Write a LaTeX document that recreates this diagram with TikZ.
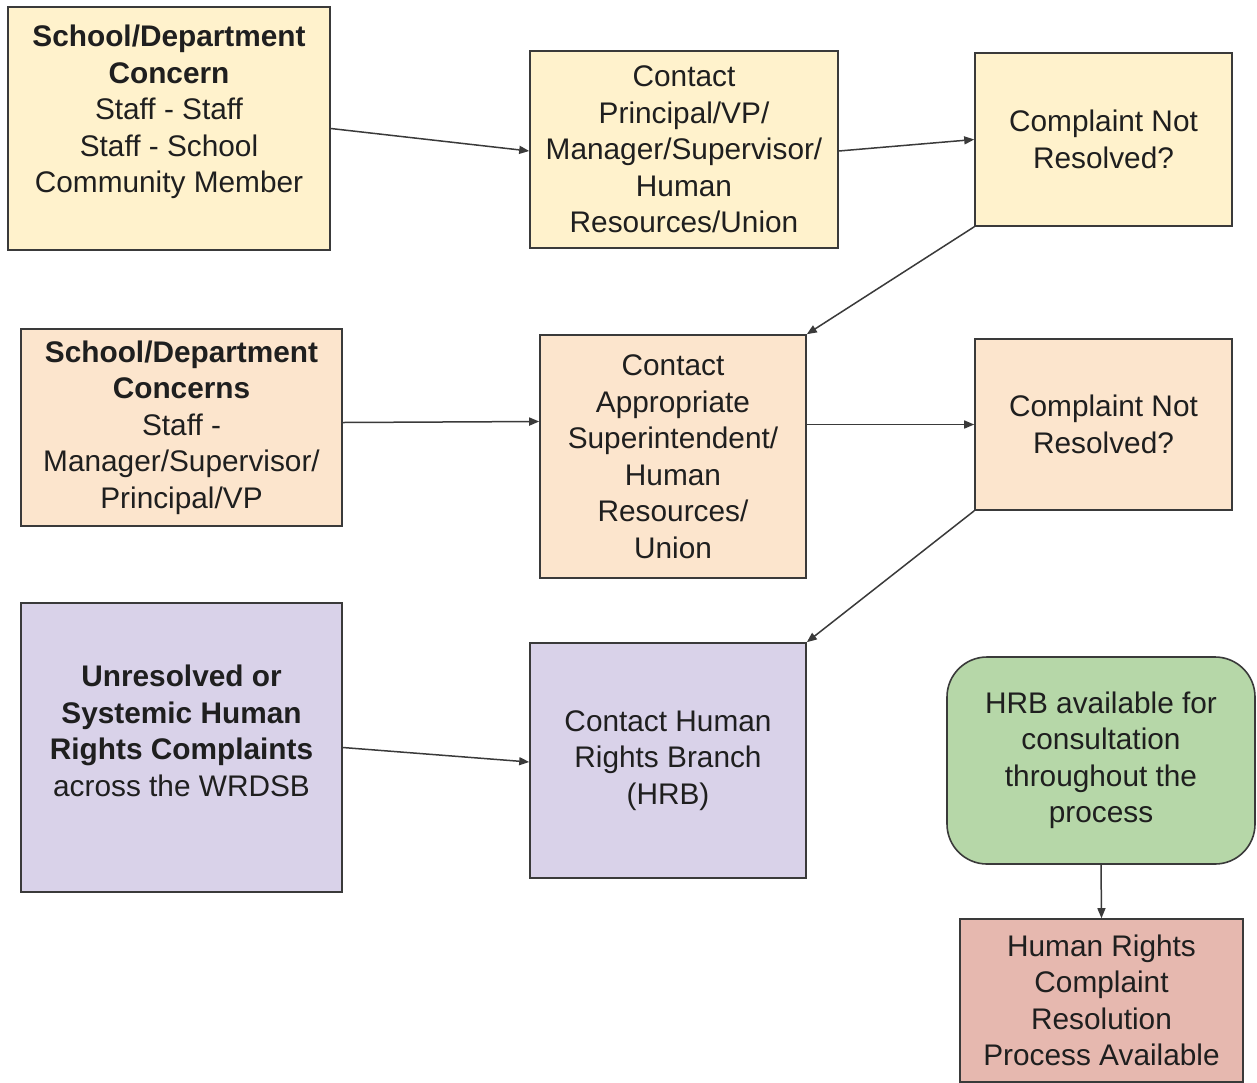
\documentclass[tikz,border=0pt]{standalone}
\usepackage{fontspec}
\setmainfont{Liberation Sans}
\usetikzlibrary{arrows.meta,calc}
\definecolor{cyel}{HTML}{FFF2CC}
\definecolor{corg}{HTML}{FCE5CD}
\definecolor{clav}{HTML}{D9D2E9}
\definecolor{cgrn}{HTML}{B6D7A8}
\definecolor{cpnk}{HTML}{E6B8AF}
\definecolor{cline}{HTML}{3A3A3A}
\tikzset{
  box/.style={draw=cline, line width=1.6pt, rectangle, inner sep=0pt},
  txt/.style={align=center, font=\fontsize{29.8}{36.5}\selectfont, text=black!88, inner sep=0pt},
  conn/.style={draw=cline, line width=1.5pt, -{Triangle[length=10pt,width=8pt]}}
}
\begin{document}
\begin{tikzpicture}[x=1pt,y=-1pt]
\useasboundingbox (0,0) rectangle (1257,1082);
\fill[white] (0,0) rectangle (1257,1082);
% row 1
\node[box, fill=cyel, minimum width=322pt, minimum height=243pt] (a) at (169,128.5) {};
\node[txt] (at) at (169,112) {\textbf{School/Department}\\\textbf{Concern}\\Staff - Staff\\Staff - School\\Community Member};
\node[box, fill=cyel, minimum width=308pt, minimum height=197pt, txt] (b) at (684,149.5) {Contact\\Principal/VP/\\Manager/Supervisor/\\Human\\Resources/Union};
\node[box, fill=cyel, minimum width=257pt, minimum height=173pt, txt] (c) at (1103.5,139.5) {Complaint Not\\Resolved?};
% row 2
\node[box, fill=corg, minimum width=321pt, minimum height=197pt, txt] (d) at (181.5,427.5) {\textbf{School/Department}\\\textbf{Concerns}\\Staff -\\Manager/Supervisor/\\Principal/VP};
\node[box, fill=corg, minimum width=266pt, minimum height=243pt, txt] (e) at (673,456.5) {Contact\\Appropriate\\Superintendent/\\Human\\Resources/\\Union};
\node[box, fill=corg, minimum width=257pt, minimum height=171pt, txt] (f) at (1103.5,424.5) {Complaint Not\\Resolved?};
% row 3
\node[box, fill=clav, minimum width=321pt, minimum height=289pt] (g) at (181.5,747.5) {};
\node[txt] (gt) at (181.5,731) {\textbf{Unresolved or}\\\textbf{Systemic Human}\\\textbf{Rights Complaints}\\across the WRDSB};
\node[box, fill=clav, minimum width=276pt, minimum height=235pt, txt] (h) at (668,760.5) {Contact Human\\Rights Branch\\(HRB)};
\node[box, fill=cgrn, rounded corners=40pt, minimum width=308pt, minimum height=207pt, txt] (i) at (1101,760.5) {HRB available for\\consultation\\throughout the\\process};
\node[box, fill=cpnk, minimum width=283pt, minimum height=163pt, txt] (j) at (1101.5,1000.5) {Human Rights\\Complaint\\Resolution\\Process Available};
% connectors
\draw[conn] (a.east) -- ($(b.west)+(0,1.5)$);
\draw[conn] ($(b.east)+(0,1.5)$) -- (c.west);
\draw[conn] (c.south west) -- (e.north east);
\draw[conn] ($(d.east)+(0,-5)$) -- ($(d.east -| e.west)+(0,-6)$);
\draw[conn] (f.west -| e.east) -- (f.west);
\draw[conn] (f.south west) -- (h.north east);
\draw[conn] (g.east) -- ($(h.west)+(0,1.5)$);
\draw[conn] (i.south) -- (j.north);
\end{tikzpicture}
\end{document}
